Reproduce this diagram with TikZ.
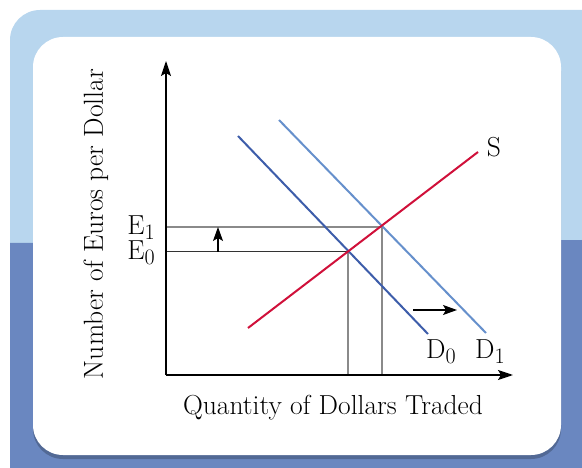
\documentclass[tikz,border=0pt]{standalone}
\usepackage{amsmath}
\usepackage{tikz}
\usetikzlibrary{arrows.meta,shadows}

\definecolor{paleblue}{HTML}{B8D6EE}
\definecolor{deepblue}{HTML}{6A87C0}
\definecolor{supplyred}{HTML}{D0103A}
\definecolor{dzero}{HTML}{3D5DAA}
\definecolor{done}{HTML}{6690CC}
\definecolor{guide}{HTML}{8A8A8A}

\newcommand{\lowidx}[1]{\raisebox{-5pt}{\fontsize{22}{24}\selectfont #1}}

\tikzset{
  axis/.style={line width=1.3pt, -{Stealth[length=15pt,width=10pt,inset=3pt]}},
  shiftarrow/.style={line width=1.2pt, -{Stealth[length=14pt,width=10pt,inset=3pt]}},
  curve/.style={line width=2pt},
  guideline/.style={line width=1.1pt, draw=guide},
  lbl/.style={font=\fontsize{27.5}{31}\selectfont, inner sep=1pt},
}

\begin{document}
\begin{tikzpicture}[x=1pt, y=-1pt]
\useasboundingbox (0,0) rectangle (582,468);

% Background panels
\fill[paleblue, rounded corners=30pt] (10,10) rectangle (612,300);
\fill[deepblue] (10,243) -- (582,240) -- (582,468) -- (10,468) -- cycle;
\fill[white, rounded corners=30pt,
      drop shadow={shadow xshift=0pt, shadow yshift=-4pt, opacity=0.22, fill=black}]
  (33,37) rectangle (561,455);

% Points (manual placement)
\coordinate (o)   at (166,375);
\coordinate (ytop) at (166,61);
\coordinate (xend) at (513,375);

\coordinate (s0)  at (248,328);
\coordinate (s1)  at (478,152);
\coordinate (d00) at (238,136);
\coordinate (d01) at (428,334);
\coordinate (d10) at (279,120);
\coordinate (d11) at (486,333);

\coordinate (e0)  at (348,252);
\coordinate (e1)  at (382,227);
\coordinate (e0y) at (166,252);
\coordinate (e1y) at (166,227);
\coordinate (e0x) at (348,375);
\coordinate (e1x) at (382,375);

\coordinate (upa) at (218,252);
\coordinate (upb) at (218,227);
\coordinate (ra)  at (413,310);
\coordinate (rb)  at (457,310);

% Labels
\node[lbl] (s)    at (494,147) {S};
\node[lbl] (d0)   at (441,352) {D\lowidx{0}};
\node[lbl] (d1)   at (490,352) {D\lowidx{1}};
\node[lbl, anchor=east] (e1l) at (156,228) {E\lowidx{1}};
\node[lbl, anchor=east] (e0l) at (156,253) {E\lowidx{0}};
\node[lbl] (xlab) at (333,408) {Quantity of Dollars Traded};
\node[lbl, rotate=90] (ylab) at (96,224) {Number of Euros per Dollar};

% Guides
\draw[guideline] (e1y) -- (e1) -- (e1x);
\draw[guideline] (e0) -- (e0x);
\draw[line width=1pt, black!80] (e0y) -- (e0);

% Curves
\draw[curve, dzero] (d00) -- (d01);
\draw[curve, done] (d10) -- (d11);
\draw[curve, supplyred] (s0) -- (s1);

% Axes
\draw[axis] (o) -- (ytop);
\draw[axis] (o) -- (xend);

% Shifts
\draw[shiftarrow] (upa) -- (upb);
\draw[shiftarrow] (ra) -- (rb);
\end{tikzpicture}
\end{document}
